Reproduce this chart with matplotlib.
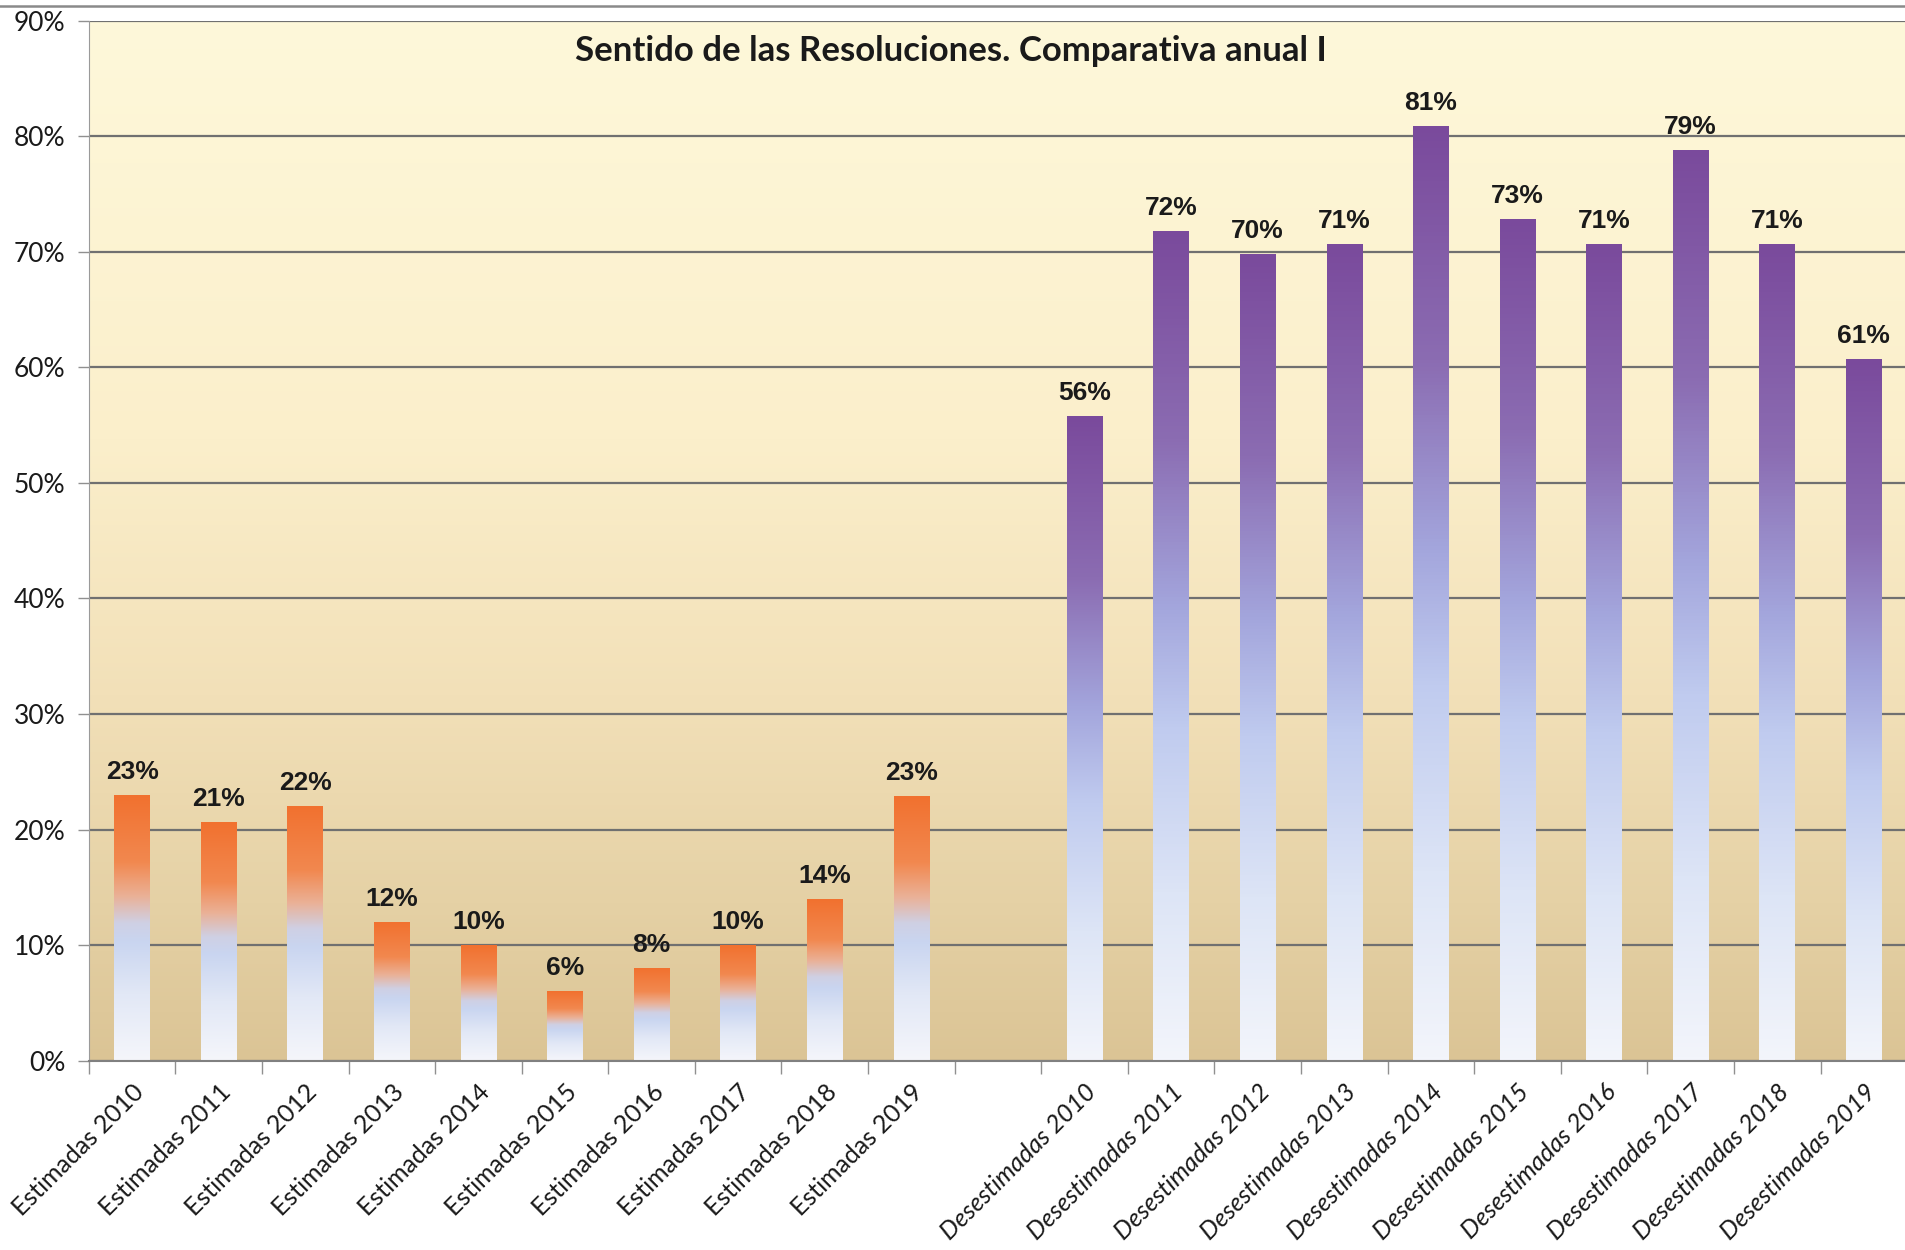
import numpy as np
import matplotlib.pyplot as plt
from matplotlib.colors import LinearSegmentedColormap
from matplotlib.lines import Line2D

# Datos (porcentajes)
anios = ['2010', '2011', '2012', '2013', '2014', '2015', '2016', '2017', '2018', '2019']
estimadas = [23.0, 20.6, 22.0, 12.0, 10.0, 6.0, 8.0, 10.0, 14.0, 22.9]
desestimadas = [55.8, 71.8, 69.8, 70.7, 80.9, 72.8, 70.7, 78.8, 70.7, 60.7]
etiquetas_est = ['Estimadas ' + a for a in anios]
etiquetas_des = ['Desestimadas ' + a for a in anios]
y_ticks = [0, 10, 20, 30, 40, 50, 60, 70, 80, 90]

plt.rcParams['font.family'] = ['Lato', 'DejaVu Sans']

fig = plt.figure(figsize=(19.05, 12.5), dpi=100)
ax = fig.add_axes([0.0466, 0.1515, 0.9545, 0.832])

# posiciones: 10 estimadas, un hueco, 10 desestimadas
x_est = np.arange(len(estimadas))
x_des = np.arange(len(desestimadas)) + len(estimadas) + 1

# fondo degradado amarillo -> tostado
fondo = LinearSegmentedColormap.from_list('fondo', [
    (0.0, '#dbc495'), (0.15, '#e5d1a5'), (0.35, '#f2e0b8'),
    (0.6, '#fbefcb'), (1.0, '#fef8da')])
grad = np.linspace(0, 1, 256).reshape(-1, 1)
ax.imshow(grad, extent=[0, 1, 0, 1], transform=ax.transAxes, origin='lower',
          aspect='auto', cmap=fondo, zorder=0)

# degradados de las barras (0 = base, 1 = tope)
naranja = LinearSegmentedColormap.from_list('naranja', [
    (0.0, '#f5f6fb'), (0.25, '#e2e8f6'), (0.45, '#c9d5f0'), (0.52, '#cfd0e4'),
    (0.62, '#eab197'), (0.75, '#f2884f'), (1.0, '#f1712f')])
morado = LinearSegmentedColormap.from_list('morado', [
    (0.0, '#f3f5fb'), (0.2, '#dde5f6'), (0.4, '#c0cbef'), (0.55, '#a3a5dc'),
    (0.75, '#8b6cb2'), (1.0, '#7a4a9c')])

barras_est = ax.bar(x_est, estimadas, width=0.41, color='none', zorder=2)
barras_des = ax.bar(x_des, desestimadas, width=0.41, color='none', zorder=2)

for barras, cmap in [(barras_est, naranja), (barras_des, morado)]:
    for b in barras:
        x0 = b.get_x()
        h = b.get_height()
        ax.imshow(grad, extent=[x0, x0 + b.get_width(), 0, h], origin='lower',
                  aspect='auto', cmap=cmap, zorder=2)
        ax.annotate(f'{round(h)}%', (x0 + b.get_width() / 2, h), xytext=(0, 8),
                    textcoords='offset points', ha='center', va='bottom',
                    fontsize=19, fontweight='bold', family='Liberation Sans',
                    color='#1a1a1a', zorder=3)

ax.set_xlim(-0.5, 20.5)
ax.set_ylim(0, 90)

# rejilla y ejes
ax.set_yticks(y_ticks)
ax.set_yticklabels([f'{v}%' for v in y_ticks], fontsize=19, color='#1a1a1a')
ax.yaxis.grid(True, color='#707070', lw=1.6, zorder=1)
ax.tick_params(axis='y', length=8, width=1, color='#909090', pad=9)

ax.set_xticks(list(x_est) + list(x_des))
ax.set_xticklabels(etiquetas_est + etiquetas_des, rotation=45, ha='right',
                   va='top', rotation_mode='anchor', fontsize=18, color='#1a1a1a')
for t in ax.get_xticklabels()[len(estimadas):]:
    t.set_fontstyle('italic')
ax.set_xticks(np.arange(-0.5, 21), minor=True)
ax.tick_params(axis='x', which='major', length=0, pad=14)
ax.tick_params(axis='x', which='minor', length=9, width=1, color='#909090')

for s in ['top', 'right']:
    ax.spines[s].set_visible(False)
ax.spines['left'].set_color('#9a9a9a')
ax.spines['bottom'].set_color('#808080')
ax.spines['bottom'].set_linewidth(1.5)

fig.text(0.4994, 0.959, 'Sentido de las Resoluciones. Comparativa anual I',
         ha='center', va='center', fontsize=25, fontweight='bold', color='#1a1a1a')

# linea gris superior del recuadro
fig.add_artist(Line2D([0, 1], [0.995, 0.995], transform=fig.transFigure,
                      color='#8a8a8a', lw=1.8))

fig.savefig('out.png', dpi=100)
